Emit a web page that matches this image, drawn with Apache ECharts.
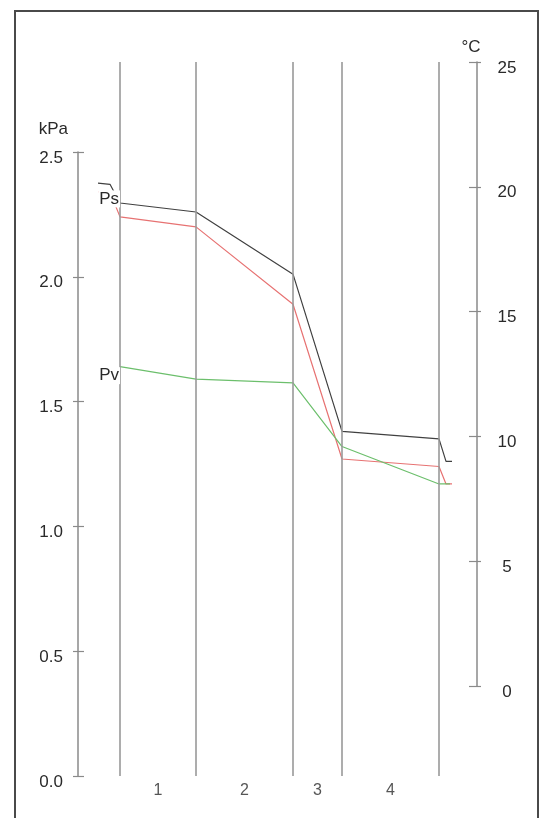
<!DOCTYPE html>
<html><head><meta charset="utf-8">
<script src="https://cdn.jsdelivr.net/npm/echarts@6/dist/echarts.min.js"></script>
<style>html,body{margin:0;padding:0;background:#fff}#c{width:546px;height:818px}</style>
</head><body><div id="c"></div>
<script>
// positions along the wall section (drawing units)
const boundaries = [42, 118, 215, 264, 361];
const layerNames = ['1', '2', '3', '4'];
const layerCenters = [80, 166.5, 239.5, 312.5];
// Temperature (°C)
const tempX = [20, 32, 42, 118, 215, 264, 361, 368, 374];
const tempV = [20.15, 20.1, 19.35, 18.99, 16.5, 10.2, 9.9, 9.0, 9.0];
// Saturation pressure Ps (kPa)
const psX = [20, 32, 42, 118, 215, 264, 361, 368, 374];
const psV = [2.34, 2.34, 2.24, 2.20, 1.89, 1.27, 1.24, 1.17, 1.17];
// Vapour pressure Pv (kPa)
const pvX = [42, 118, 215, 264, 361, 372];
const pvV = [1.64, 1.59, 1.575, 1.32, 1.17, 1.17];
const kpaTicks = [0, 2.5, 0.5];
const degTicks = [0, 25, 5];

const F = 'Liberation Sans, Arial, sans-serif';
const txt = '#2a2a2a';
const axGray = '#8a8a8a';
const zip = (xs, vs) => xs.map((x, i) => [x, vs[i]]);

const chart = echarts.init(document.getElementById('c'), null, {renderer: 'canvas'});
const hiddenX = (gi) => ({type: 'value', gridIndex: gi, min: 0, max: 399, show: false});
const seriesLabel = (text, offset) => ({
  show: true, position: 'left', distance: 0, offset: offset, formatter: text,
  color: txt, fontFamily: F, fontSize: 17, backgroundColor: '#fff', padding: [0, 1, 0, 1], lineHeight: 17
});
chart.setOption({
  animation: false,
  backgroundColor: '#fff',
  grid: [
    {left: 78, right: 69, top: 152, bottom: 42},
    {left: 78, right: 69, top: 62, bottom: 132},
    {left: 78, right: 69, top: 62, bottom: 42}
  ],
  xAxis: [hiddenX(0), hiddenX(1), hiddenX(2)],
  yAxis: [
    {type: 'value', gridIndex: 0, position: 'left', min: kpaTicks[0], max: kpaTicks[1], interval: kpaTicks[2],
     name: 'kPa', nameLocation: 'end', nameGap: 14,
     nameTextStyle: {color: txt, fontFamily: F, fontSize: 17, align: 'right', padding: [0, 10, 0, 0]},
     axisLine: {show: true, onZero: false, lineStyle: {color: axGray, width: 1.5}},
     axisTick: {show: true, length: 5, lineStyle: {color: axGray, width: 1.2}},
     axisLabel: {color: txt, fontFamily: F, fontSize: 17, margin: 15, verticalAlign: 'top', lineHeight: 12,
                 formatter: v => v.toFixed(1)},
     splitLine: {show: false}},
    {type: 'value', gridIndex: 0, position: 'left', min: kpaTicks[0], max: kpaTicks[1], interval: kpaTicks[2],
     axisLine: {show: false, onZero: false}, axisLabel: {show: false}, splitLine: {show: false},
     axisTick: {show: true, inside: true, length: 6, lineStyle: {color: axGray, width: 1.2}}},
    {type: 'value', gridIndex: 1, position: 'right', min: degTicks[0], max: degTicks[1], interval: degTicks[2],
     name: '°C', nameLocation: 'end', nameGap: 6,
     nameTextStyle: {color: txt, fontFamily: F, fontSize: 17, align: 'center', padding: [0, 12, 0, 0]},
     axisLine: {show: true, onZero: false, lineStyle: {color: axGray, width: 1.5}},
     axisTick: {show: true, length: 4, lineStyle: {color: axGray, width: 1.2}},
     axisLabel: {color: txt, fontFamily: F, fontSize: 17, margin: 30, align: 'center', verticalAlign: 'top', lineHeight: 12},
     splitLine: {show: false}},
    {type: 'value', gridIndex: 1, position: 'right', min: degTicks[0], max: degTicks[1], interval: degTicks[2],
     axisLine: {show: false, onZero: false}, axisLabel: {show: false}, splitLine: {show: false},
     axisTick: {show: true, inside: true, length: 8, lineStyle: {color: axGray, width: 1.2}}},
    {type: 'value', gridIndex: 2, min: 0, max: 1, show: false}
  ],
  series: [
    {type: 'line', xAxisIndex: 2, yAxisIndex: 4, data: [], silent: true,
     markLine: {silent: true, symbol: 'none', label: {show: false},
       lineStyle: {color: '#999', width: 1.6, type: 'solid'},
       data: boundaries.map(b => ({xAxis: b}))}},
    {type: 'scatter', xAxisIndex: 2, yAxisIndex: 4, symbolSize: 0, silent: true,
     data: layerCenters.map((c, i) => ({value: [c, 0], name: layerNames[i]})),
     label: {show: true, position: 'bottom', distance: 7, formatter: p => p.name,
             color: txt, fontFamily: F, fontSize: 16}},
    {type: 'line', name: 'T', xAxisIndex: 1, yAxisIndex: 2, data: zip(tempX, tempV), symbol: 'none',
     lineStyle: {color: '#404040', width: 1.2}, z: 3},
    {type: 'line', name: 'Ps', xAxisIndex: 0, yAxisIndex: 0, symbol: 'none',
     data: zip(psX, psV),
     lineStyle: {color: '#e77272', width: 1.2}, z: 4,
     markPoint: {silent: true, symbol: 'circle', symbolSize: 0, animation: false,
       data: [{coord: [psX[2], psV[2]], label: seriesLabel('Ps', [0, -18])}]}},
    {type: 'line', name: 'Pv', xAxisIndex: 0, yAxisIndex: 0, symbol: 'none',
     data: zip(pvX, pvV),
     lineStyle: {color: '#6cbf6c', width: 1.2}, z: 4,
     markPoint: {silent: true, symbol: 'circle', symbolSize: 0, animation: false,
       data: [{coord: [pvX[0], pvV[0]], label: seriesLabel('Pv', [0, 9])}]}}
  ],
  graphic: [
    {type: 'rect', shape: {x: 15, y: 11, width: 523, height: 830}, silent: true,
     style: {fill: 'none', stroke: '#4a4a4a', lineWidth: 2}, z: 100}
  ]
});
</script></body></html>
